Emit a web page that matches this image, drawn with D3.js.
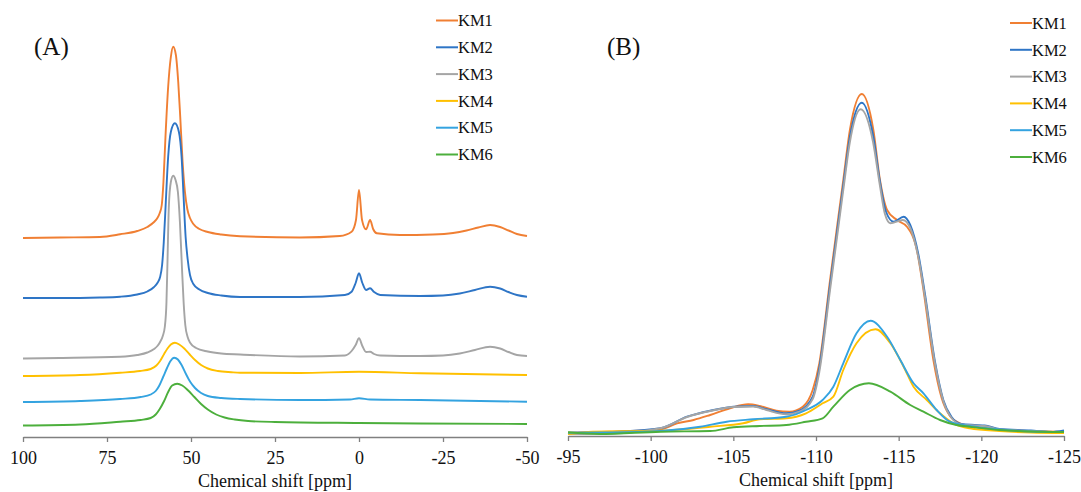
<!DOCTYPE html>
<html>
<head>
<meta charset="utf-8">
<script src="https://cdn.jsdelivr.net/npm/d3@7"></script>
<style>
  html, body { margin: 0; padding: 0; background: #fff; }
  svg { display: block; font-family: "Liberation Serif", "Times New Roman", serif; }
</style>
</head>
<body>
<svg id="chart" width="1081" height="492"></svg>
<script>
// Series names and colours
const seriesNames = ["KM1", "KM2", "KM3", "KM4", "KM5", "KM6"];
const seriesColors = ["#F07F33", "#2E75C6", "#A5A5A5", "#FFC000", "#34A3E0", "#4CAF3C"];

// Axis ticks
const ticksA = [100, 75, 50, 25, 0, -25, -50];
const ticksB = [-95, -100, -105, -110, -115, -120, -125];

// Panel A: stacked spectra [ppm, intensity (a.u.)]
const km1A = [[100,199],[89,199.5],[77.1,200],[71.1,202.7],[66,206],[63,210],[61,215],[60,219],[59.3,224],[58.7,232],[58.2,255],[57.6,300],[56.8,350],[56.0,380],[55.3,390.3],[54.5,382],[53.8,355],[53.2,320],[52.5,275],[51.8,245],[51.1,228],[50.3,219],[49.3,213],[47.5,208],[45,205],[41,202.5],[35.4,200.8],[17.6,199.5],[5.7,201],[2.2,205.3],[0.9,217],[0,247],[-0.9,217],[-2.1,207.7],[-3.3,217],[-4.2,208],[-5.3,203.7],[-12.2,202],[-22,202.5],[-28,204],[-32,206.5],[-35.5,209.5],[-39,212],[-42,210],[-44.5,206.5],[-47,203],[-50,201]];
const km2A = [[100,139],[89,139],[77.1,139.5],[71.1,140.3],[66,142.5],[63,145.5],[61,150],[60,154],[59.2,160],[58.6,172],[58.1,195],[57.5,235],[56.8,280],[56,305],[54.8,313.7],[53.6,305],[52.8,280],[52.2,240],[51.6,200],[51.0,178],[50.3,162],[49.3,153],[47.5,147.5],[45,144],[41,141.5],[35.4,140],[17.6,140],[4.2,142],[2.2,145.3],[1.0,154],[0,163.7],[-1.0,154],[-2.1,147],[-3.3,148.7],[-4.5,145],[-6.3,142],[-18.2,141],[-25,141.5],[-30,143.5],[-34.5,147],[-39,150.3],[-42,148.5],[-44.5,145],[-47,142],[-50,140.3]];
const km3A = [[100,78.5],[89,79],[71.1,80.3],[66,82],[63,84.5],[61,88],[60,91],[59.2,95],[58.4,101],[57.8,110],[57.3,135],[57.0,175],[56.6,230],[56,255],[55.3,261.3],[54.6,257],[53.9,245],[53.3,215],[52.7,170],[52.2,135],[51.7,112],[51.0,100],[50.2,94],[48.5,89],[45,85.5],[41,83.5],[35.4,82.5],[17.6,80.5],[4.2,81.5],[2.2,86],[1.0,92],[0,98.7],[-1.0,91],[-2.1,85],[-3.3,85.3],[-4.5,83],[-6.3,81.5],[-18.2,81],[-25,81.5],[-30,83.5],[-34.5,87],[-39,90.3],[-42,88.5],[-44.5,85],[-47,82],[-50,81]];
const km4A = [[100,61],[83,62],[71.1,64.3],[65.2,66],[62,68],[60.3,71.5],[59.2,76],[58,83],[57,88.5],[56,92.5],[54.8,94.3],[53.5,92.5],[52,88.5],[50.5,83],[48.8,77],[47,72],[45,68.5],[42,66],[38,64.8],[35.4,64.3],[17.6,64],[0,65.3],[-18.2,63.7],[-50,62]];
const km5A = [[100,35],[83,36],[71.1,38],[65,40],[62,42.5],[60.5,46],[59.5,51],[58.3,60],[57.2,68.5],[56.2,75.5],[55.0,79.3],[53.9,77.5],[52.8,72],[51.5,63],[50.2,55],[48.8,49],[47,44],[45,41],[41,39],[35.4,38],[17.6,37],[2.7,37.5],[0,38.7],[-3.3,37.5],[-18.2,37],[-50,35.3]];
const km6A = [[100,11.5],[83,12.5],[71.1,15.3],[65,17],[62,19],[60.5,22.5],[59.3,28],[58,36],[56.8,45],[55.6,51.5],[54.1,53.3],[52.6,51.5],[51,47],[49,40],[47,33],[45,27.5],[42.5,22.5],[40,19.5],[37,17.5],[33,16],[25,15],[0,14],[-18.2,13.5],[-50,13]];

// Panel B: overlaid spectra [ppm, intensity (a.u.)]
const km1B = [[-95,3.3],[-97.5,4.3],[-100.6,6.7],[-101.6,12.7],[-102.6,16],[-103.6,21],[-104.8,27.7],[-105.9,31.7],[-106.6,30],[-107.6,25.3],[-108.4,24.3],[-109.2,29.3],[-109.8,46],[-110.2,72.7],[-110.85,156],[-111.65,256],[-112.05,306],[-112.77,342],[-113.47,306],[-113.87,256],[-114.3,226],[-114.9,216],[-115.5,209.3],[-116.1,186],[-116.5,146],[-117.1,76],[-117.6,38],[-118.1,20],[-118.7,12.7],[-119.3,10],[-120.2,8],[-121.1,6],[-123,5],[-125,4]];
const km2B = [[-95,3],[-97.5,4],[-100.6,7.7],[-102.2,19.3],[-103.6,25.3],[-105,29.3],[-106.2,30],[-107,26.7],[-108.2,22.7],[-109,25.3],[-109.8,39.3],[-110.2,68],[-110.85,151],[-111.65,251],[-112.05,299],[-112.77,333.3],[-113.47,299],[-113.87,254],[-114.24,224],[-114.7,214.3],[-115.3,219.3],[-115.7,211],[-116.2,181],[-116.6,141],[-117.2,74],[-117.7,36],[-118.2,19],[-118.8,12],[-119.6,11],[-120.2,10.5],[-121.1,7],[-123,5.5],[-124.2,4],[-125,5.5]];
const km3B = [[-95,2],[-97.5,2.5],[-100.6,7.7],[-102.2,19],[-103.6,25],[-105,29],[-106.2,29.5],[-107,26],[-108.2,21.7],[-109,24.3],[-109.8,37],[-110.2,64],[-110.85,146],[-111.65,246],[-112.05,294],[-112.7,326.7],[-113.45,294],[-113.87,250],[-114.17,222],[-114.5,212.7],[-115.25,216],[-115.7,208],[-116.2,178],[-116.6,138],[-117.2,72],[-117.7,35],[-118.2,18],[-118.8,11.5],[-119.6,10.5],[-120.2,10],[-121.1,6.5],[-123,5],[-125,3.5]];
const km4B = [[-95,2],[-96.5,4.3],[-100.6,5.3],[-103.6,9.3],[-105.6,12.7],[-106.6,16.7],[-108.2,17.7],[-109.4,22.7],[-110.4,32.7],[-111.05,39.3],[-111.65,66],[-112.45,92.7],[-113.6,106.7],[-114.5,92.7],[-115.3,69.3],[-115.9,49.3],[-116.7,36],[-117.5,22.7],[-118.3,12.7],[-119.3,7.7],[-121.1,5],[-123,3.5],[-125,3]];
const km5B = [[-95,3.3],[-97.5,3.5],[-100.6,5],[-103,9.3],[-104.6,14.3],[-106.2,16.7],[-108.2,19.3],[-109.4,26],[-110.4,36],[-111.05,49.3],[-111.65,72.7],[-112.45,102.7],[-113.3,115.3],[-114.3,99.3],[-115.1,76],[-115.9,52.7],[-116.5,42.7],[-117.3,26],[-118.1,14.3],[-119.3,10],[-121.1,6.5],[-123,4.5],[-125,4]];
const km6B = [[-95,3.7],[-96.9,2],[-100.6,4.3],[-103.6,5],[-105,8.7],[-106.6,10],[-108.2,11],[-109.4,14.3],[-110.4,17.7],[-111.05,29.3],[-112.05,46],[-113.2,52.7],[-114.5,44.3],[-115.7,31],[-116.5,24.3],[-117.5,16],[-118.5,11],[-119.3,9.3],[-121.1,6],[-123,4.5],[-125,4]];

const spectraA = [km1A, km2A, km3A, km4A, km5A, km6A];
const spectraB = [km1B, km2B, km3B, km4B, km5B, km6B];

const svg = d3.select("#chart");

function drawPanel(cfg) {
  const x = d3.scaleLinear().domain(cfg.xDomain).range(cfg.xRange);
  const y = d3.scaleLinear().domain([0, 400]).range([cfg.axisY, cfg.axisY - 400]);
  const g = svg.append("g");

  const line = d3.line()
    .x(d => x(d[0]))
    .y(d => y(d[1]))
    .curve(d3.curveMonotoneX);

  g.selectAll("path.spectrum")
    .data(cfg.spectra)
    .join("path")
    .attr("class", "spectrum")
    .attr("fill", "none")
    .attr("stroke", (d, i) => seriesColors[i])
    .attr("stroke-width", 1.9)
    .attr("stroke-linejoin", "round")
    .attr("d", line);

  const axis = d3.axisBottom(x)
    .tickValues(cfg.ticks)
    .tickSize(5)
    .tickSizeOuter(0)
    .tickPadding(9)
    .tickFormat(d => String(d));

  const ax = g.append("g")
    .attr("transform", `translate(0,${cfg.axisY})`)
    .call(axis);
  ax.select(".domain").attr("stroke", "#808080").attr("stroke-width", 1.3);
  ax.selectAll(".tick line").attr("stroke", "#808080").attr("stroke-width", 1.3);
  ax.selectAll(".tick text")
    .attr("fill", "#111")
    .style("font-size", "18px")
    .style("font-family", "Liberation Serif, serif");

  g.append("text")
    .attr("x", (cfg.xRange[0] + cfg.xRange[1]) / 2)
    .attr("y", cfg.axisY + 50)
    .attr("text-anchor", "middle")
    .attr("fill", "#111")
    .style("font-size", "18px")
    .text("Chemical shift [ppm]");

  g.append("text")
    .attr("x", cfg.labelX)
    .attr("y", 55)
    .attr("fill", "#111")
    .style("font-size", "25px")
    .text(cfg.label);

  const leg = g.append("g");
  seriesNames.forEach((name, i) => {
    const ly = cfg.legendY + i * 26.8;
    leg.append("line")
      .attr("x1", cfg.legendX).attr("x2", cfg.legendX + 22)
      .attr("y1", ly).attr("y2", ly)
      .attr("stroke", seriesColors[i]).attr("stroke-width", 2);
    leg.append("text")
      .attr("x", cfg.legendX + 22)
      .attr("y", ly)
      .attr("dy", "0.35em")
      .attr("fill", "#111")
      .style("font-size", "16.5px")
      .text(name);
  });
}

drawPanel({
  xDomain: [100, -50], xRange: [23, 527], axisY: 437,
  ticks: ticksA, spectra: spectraA,
  label: "(A)", labelX: 34,
  legendX: 436, legendY: 20.5
});

drawPanel({
  xDomain: [-95, -125], xRange: [568, 1064], axisY: 436,
  ticks: ticksB, spectra: spectraB,
  label: "(B)", labelX: 607,
  legendX: 1010, legendY: 23
});
</script>
</body>
</html>
